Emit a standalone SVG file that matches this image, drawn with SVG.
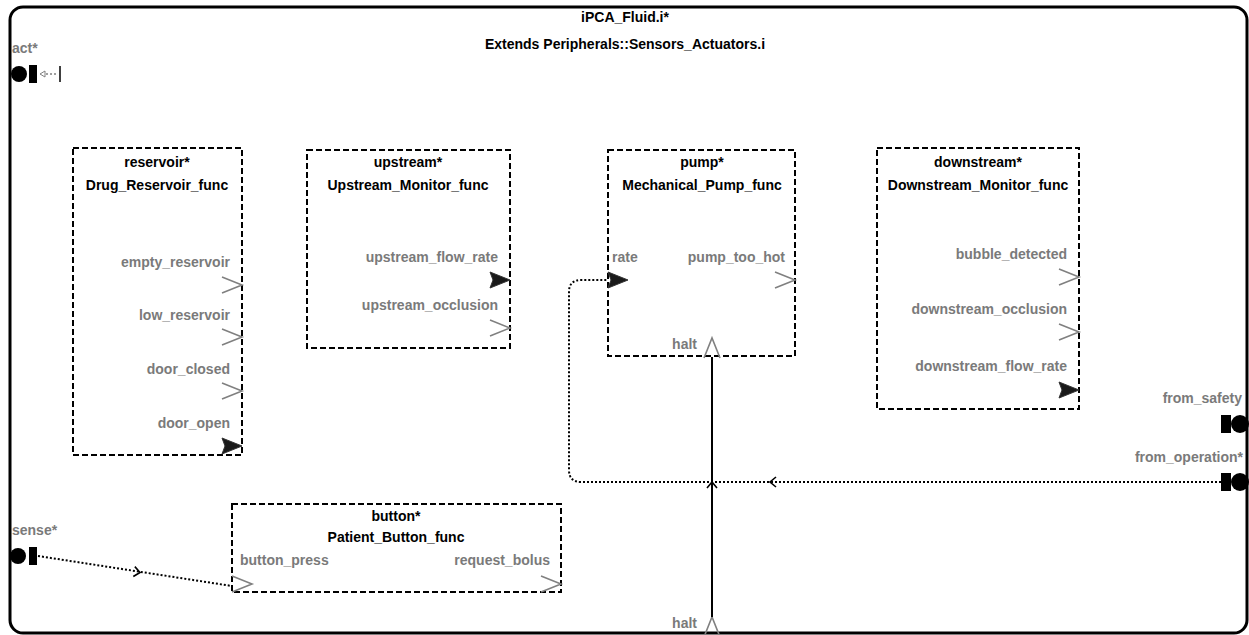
<svg xmlns="http://www.w3.org/2000/svg" width="1249" height="635" viewBox="0 0 1249 635">
<style>
text{font-family:"Liberation Sans",Arial,sans-serif;font-size:14px;font-weight:bold}
.t{fill:#000;text-anchor:middle}
.l{fill:#7a7a7a}
.e{text-anchor:end}
.box{fill:#fff;stroke:#000;stroke-width:2;stroke-dasharray:6,3}
.chev{fill:none;stroke:#808080;stroke-width:1.6}
.tri{fill:#1a1a1a;stroke:#333;stroke-width:1}
.dot{fill:none;stroke:#000;stroke-width:2;stroke-dasharray:2,2}
.solid{fill:none;stroke:#000;stroke-width:2}
.ah{fill:none;stroke:#000;stroke-width:1.6}
</style>
<defs>
<polyline id="chevR" class="chev" points="-20,-8 0,0 -20,8"/>
<polygon id="triR" class="tri" points="-20,-8 0,0 -20,8 -17,0"/>
<polyline id="chevU" class="chev" points="-8,20 0,0 8,20"/>
</defs>
<rect width="1249" height="635" fill="#fff"/>
<g id="frame">
<rect x="10" y="7" width="1237" height="626" rx="13" fill="#fff" stroke="#000" stroke-width="3"/>
<text class="t" x="625" y="22">iPCA_Fluid.i*</text>
<text class="t" x="625" y="49">Extends Peripherals::Sensors_Actuators.i</text>
</g>
<g id="reservoir">
<rect class="box" x="73" y="148" width="169" height="307"/>
<text class="t" x="157" y="167">reservoir*</text>
<text class="t" x="157" y="190">Drug_Reservoir_func</text>
<text class="l e" x="230" y="267">empty_reservoir</text>
<use href="#chevR" x="242" y="285"/>
<text class="l e" x="230" y="320">low_reservoir</text>
<use href="#chevR" x="242" y="337"/>
<text class="l e" x="230" y="374">door_closed</text>
<use href="#chevR" x="242" y="391"/>
<text class="l e" x="230" y="428">door_open</text>
<use href="#triR" x="242" y="446"/>
</g>
<g id="upstream">
<rect class="box" x="307" y="150" width="203" height="198"/>
<text class="t" x="408" y="167">upstream*</text>
<text class="t" x="408" y="190">Upstream_Monitor_func</text>
<text class="l e" x="498" y="262">upstream_flow_rate</text>
<use href="#triR" x="510" y="280"/>
<text class="l e" x="498" y="310">upstream_occlusion</text>
<use href="#chevR" x="510" y="328"/>
</g>
<g id="pump">
<rect class="box" x="608" y="150" width="187" height="206"/>
<text class="t" x="702" y="167">pump*</text>
<text class="t" x="702" y="190">Mechanical_Pump_func</text>
<text class="l" x="612" y="262">rate</text>
<use href="#triR" x="628" y="280"/>
<text class="l e" x="785" y="262">pump_too_hot</text>
<use href="#chevR" x="795" y="280"/>
<text class="l e" x="697" y="349">halt</text>
<use href="#chevU" x="712" y="338"/>
</g>
<g id="downstream">
<rect class="box" x="877" y="148" width="202" height="261"/>
<text class="t" x="978" y="167">downstream*</text>
<text class="t" x="978" y="190">Downstream_Monitor_func</text>
<text class="l e" x="1067" y="259">bubble_detected</text>
<use href="#chevR" x="1079" y="277"/>
<text class="l e" x="1067" y="314">downstream_occlusion</text>
<use href="#chevR" x="1079" y="332"/>
<text class="l e" x="1067" y="371">downstream_flow_rate</text>
<use href="#triR" x="1079" y="390"/>
</g>
<g id="button">
<rect class="box" x="232" y="504" width="329" height="88"/>
<text class="t" x="396" y="521">button*</text>
<text class="t" x="396" y="542">Patient_Button_func</text>
<text class="l" x="240" y="565">button_press</text>
<use href="#chevR" x="252" y="584"/>
<text class="l e" x="550" y="565">request_bolus</text>
<use href="#chevR" x="561" y="584"/>
</g>
<g id="act">
<text class="l" x="12" y="53">act*</text>
<circle cx="19" cy="74" r="8" fill="#000"/>
<rect x="29" y="65" width="8" height="18" fill="#000"/>
<polygon points="40,74 45,71 45,77" fill="#fff" stroke="#808080" stroke-width="1"/>
<line x1="46" y1="74" x2="58" y2="74" stroke="#808080" stroke-width="1.5" stroke-dasharray="2,2"/>
<line x1="60" y1="66" x2="60" y2="82" stroke="#000" stroke-width="1.5"/>
</g>
<g id="sense">
<text class="l" x="12" y="535">sense*</text>
<circle cx="18" cy="556" r="8" fill="#000"/>
<rect x="29" y="547" width="8" height="18" fill="#000"/>
</g>
<g id="from_safety">
<text class="l e" x="1242" y="403">from_safety</text>
<rect x="1221" y="415" width="10" height="18" fill="#000"/>
<circle cx="1240" cy="424" r="9" fill="#000"/>
</g>
<g id="from_operation">
<text class="l e" x="1243" y="462">from_operation*</text>
<rect x="1221" y="473" width="10" height="18" fill="#000"/>
<circle cx="1240" cy="482" r="9" fill="#000"/>
</g>
<g id="bottom_halt">
<text class="l e" x="697" y="628">halt</text>
<use href="#chevU" x="712" y="617"/>
</g>
<g id="connectors">
<path class="dot" d="M1221 482 H581 Q569 482 569 470 V292 Q569 280 581 280 H607"/>
<polyline class="ah" points="776,477 770,482 776,487"/>
<path class="solid" d="M712 617 V357"/>
<polyline class="ah" points="707,488 712,482 717,488"/>
<path class="dot" d="M38 556 L232 586"/>
<polyline class="ah" points="-6,-5 0,0 -6,5" transform="translate(140,572.5) rotate(9)"/>
</g>
</svg>
